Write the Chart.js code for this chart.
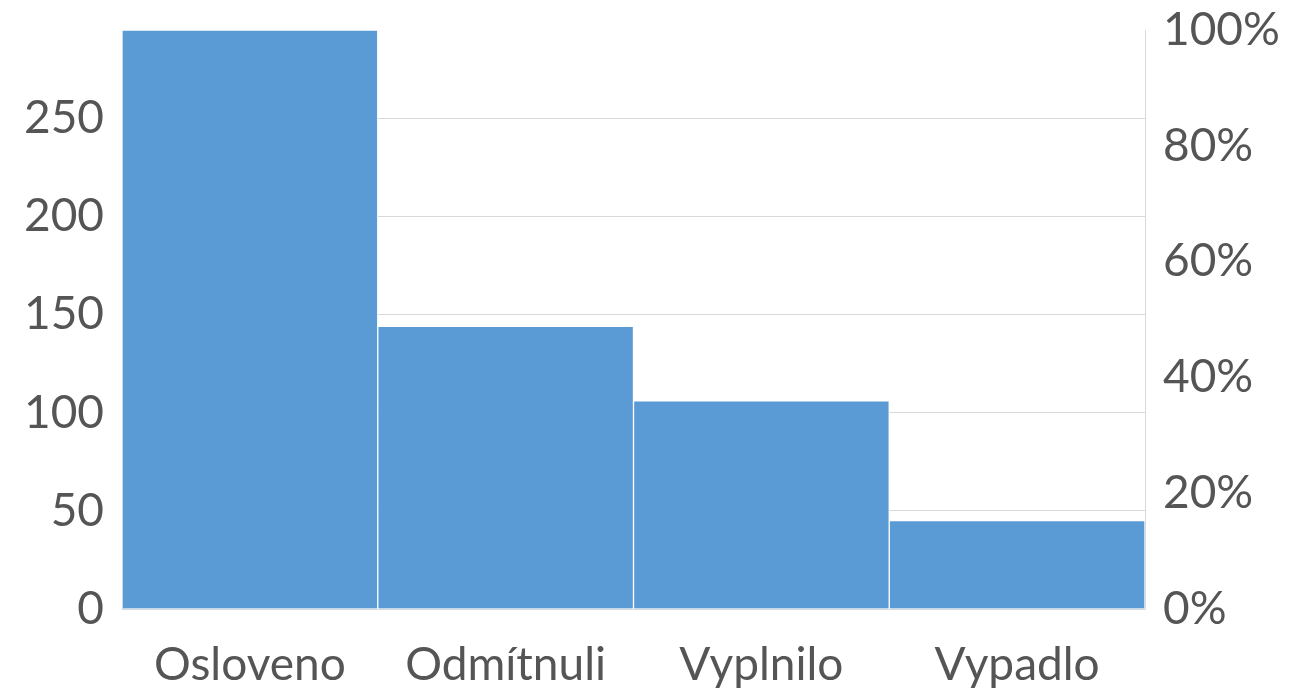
<!DOCTYPE html>
<html lang="cs">
  <head>
    <meta charset="UTF-8" />
    <title>Osloveno / Odmítnuli / Vyplnilo / Vypadlo</title>
    <script src="https://cdn.jsdelivr.net/npm/chart.js@4"></script>
    <style>
      html, body { margin: 0; padding: 0; background: #fff; }
      #wrap { width: 1299px; height: 690px; }
    </style>
  </head>
  <body>
    <div id="wrap"><canvas id="myChart"></canvas></div>
    <script>
      // data
      const categories = ["Osloveno", "Odmítnuli", "Vyplnilo", "Vypadlo"];
      const counts = [295, 144, 106, 45];
      const leftTicks = [0, 50, 100, 150, 200, 250];
      const rightTicks = [0, 20, 40, 60, 80, 100];

      const textColor = "#555555";
      const gridColor = "#d9d9d9";
      const font = { family: "Lato", size: 46 };

      // keep the plot area where the reference has it
      function fitY(width) {
        return (s) => {
          s.width = width;
          s.paddingTop = 0;
          s.paddingBottom = 0;
        };
      }

      const ctx = document.getElementById("myChart").getContext("2d");
      const chart = new Chart(ctx, {
        type: "bar",
        data: {
          labels: categories,
          datasets: [
            {
              label: "Počet",
              data: counts,
              backgroundColor: "#5b9bd5",
              borderColor: "rgba(255,255,255,0.85)",
              borderWidth: 1,
              barPercentage: 1,
              categoryPercentage: 1,
              yAxisID: "y",
            },
          ],
        },
        options: {
          responsive: true,
          maintainAspectRatio: false,
          animation: false,
          layout: { padding: { top: 30, left: 0, right: 0, bottom: 0 } },
          plugins: { legend: { display: false }, tooltip: { enabled: false } },
          scales: {
            x: {
              grid: { display: false },
              border: { color: gridColor },
              ticks: { color: textColor, font: font, padding: 21, maxRotation: 0 },
              afterFit: (s) => { s.height = 81; },
            },
            y: {
              position: "left",
              min: 0,
              max: counts[0],
              grid: { color: gridColor, drawTicks: false },
              border: { color: gridColor },
              ticks: { color: textColor, font: font, padding: 18, stepSize: 50, includeBounds: false },
              afterBuildTicks: (s) => { s.ticks = leftTicks.map((v) => ({ value: v })); },
              afterFit: fitY(122),
            },
            y2: {
              position: "right",
              min: 0,
              max: 100,
              grid: { display: false, drawTicks: false },
              border: { color: gridColor },
              ticks: { color: textColor, font: font, padding: 18, callback: (v) => v + "%" },
              afterBuildTicks: (s) => { s.ticks = rightTicks.map((v) => ({ value: v })); },
              afterFit: fitY(154),
            },
          },
        },
      });
    </script>
  </body>
</html>
